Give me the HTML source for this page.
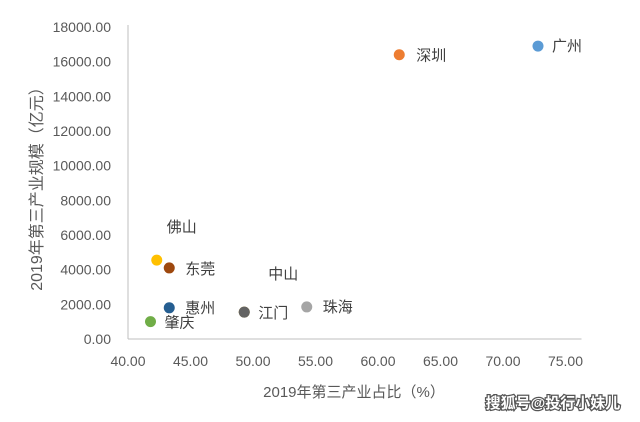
<!DOCTYPE html>
<html><head><meta charset="utf-8"><style>
body{margin:0;background:#fff;width:640px;height:417px;overflow:hidden}
text{font-family:"Liberation Sans","Noto Sans CJK SC",sans-serif}
</style></head><body>
<svg id="c" width="640" height="417">
<g id="axes"></g><g id="pts"></g>
<text x="553" y="408" text-anchor="middle" font-size="15" font-weight="bold" fill="#fff" stroke="#555" stroke-width="2.5" paint-order="stroke">搜狐号@投行小妹儿</text>
</svg>
<script>
const cities=["广州","深圳","佛山","东莞","惠州","肇庆","中山","江门","珠海"];
const share=[72.8,61.7,42.3,43.3,43.3,41.8,49.3,49.3,54.3];
const scale=[16900,16400,4550,4100,1800,1000,1550,1550,1850];
const colors=["#5b9bd5","#ed7d31","#ffc000","#9e480e","#255e91","#70ad47","#997300","#636363","#a5a5a5"];
const xTicks=[40,45,50,55,60,65,70,75];
const yTicks=[0,2000,4000,6000,8000,10000,12000,14000,16000,18000];
const labelOff=[[14,5],[17,6],[10,-28],[16,6],[16,5],[14,6],[24,-33],[14,6],[16,5]];
const NS="http://www.w3.org/2000/svg";
const X=v=>128+(v-40)*12.5, Y=v=>339-v/18000*312;
const ax=document.getElementById('axes'), pts=document.getElementById('pts');
function mk(t,a,p){const e=document.createElementNS(NS,t);for(const k in a)e.setAttribute(k,a[k]);p.appendChild(e);return e;}
let l=mk('line',{x1:128,y1:Y(18000)-2,x2:128,y2:339,stroke:'#bfbfbf'},ax);

l=mk('line',{x1:128,y1:339,x2:X(75)+16,y2:339,stroke:'#bfbfbf'},ax);

yTicks.forEach(v=>{const t=mk('text',{x:111,y:Y(v)+5,'text-anchor':'end','font-size':14,fill:'#595959'},ax);t.textContent=v.toFixed(2);
});
xTicks.forEach(v=>{const t=mk('text',{x:X(v),y:366,'text-anchor':'middle','font-size':14,fill:'#595959'},ax);t.textContent=v.toFixed(2);
});
let t=mk('text',{x:354,y:397,'text-anchor':'middle','font-size':15,fill:'#595959'},ax);t.textContent='2019年第三产业占比（%）';

t=mk('text',{x:0,y:0,'text-anchor':'middle','font-size':16,fill:'#595959',transform:'translate(42,185) rotate(-90)'},ax);t.textContent='2019年第三产业规模（亿元）';

cities.forEach((c,i)=>{const cx=X(share[i]),cy=Y(scale[i]);
const d=mk('circle',{cx:cx,cy:cy,r:5.5,fill:colors[i]},pts);

const lb=mk('text',{x:cx+labelOff[i][0],y:cy+labelOff[i][1],'font-size':15,fill:'#404040'},pts);lb.textContent=c;
});
</script>
</body></html>
